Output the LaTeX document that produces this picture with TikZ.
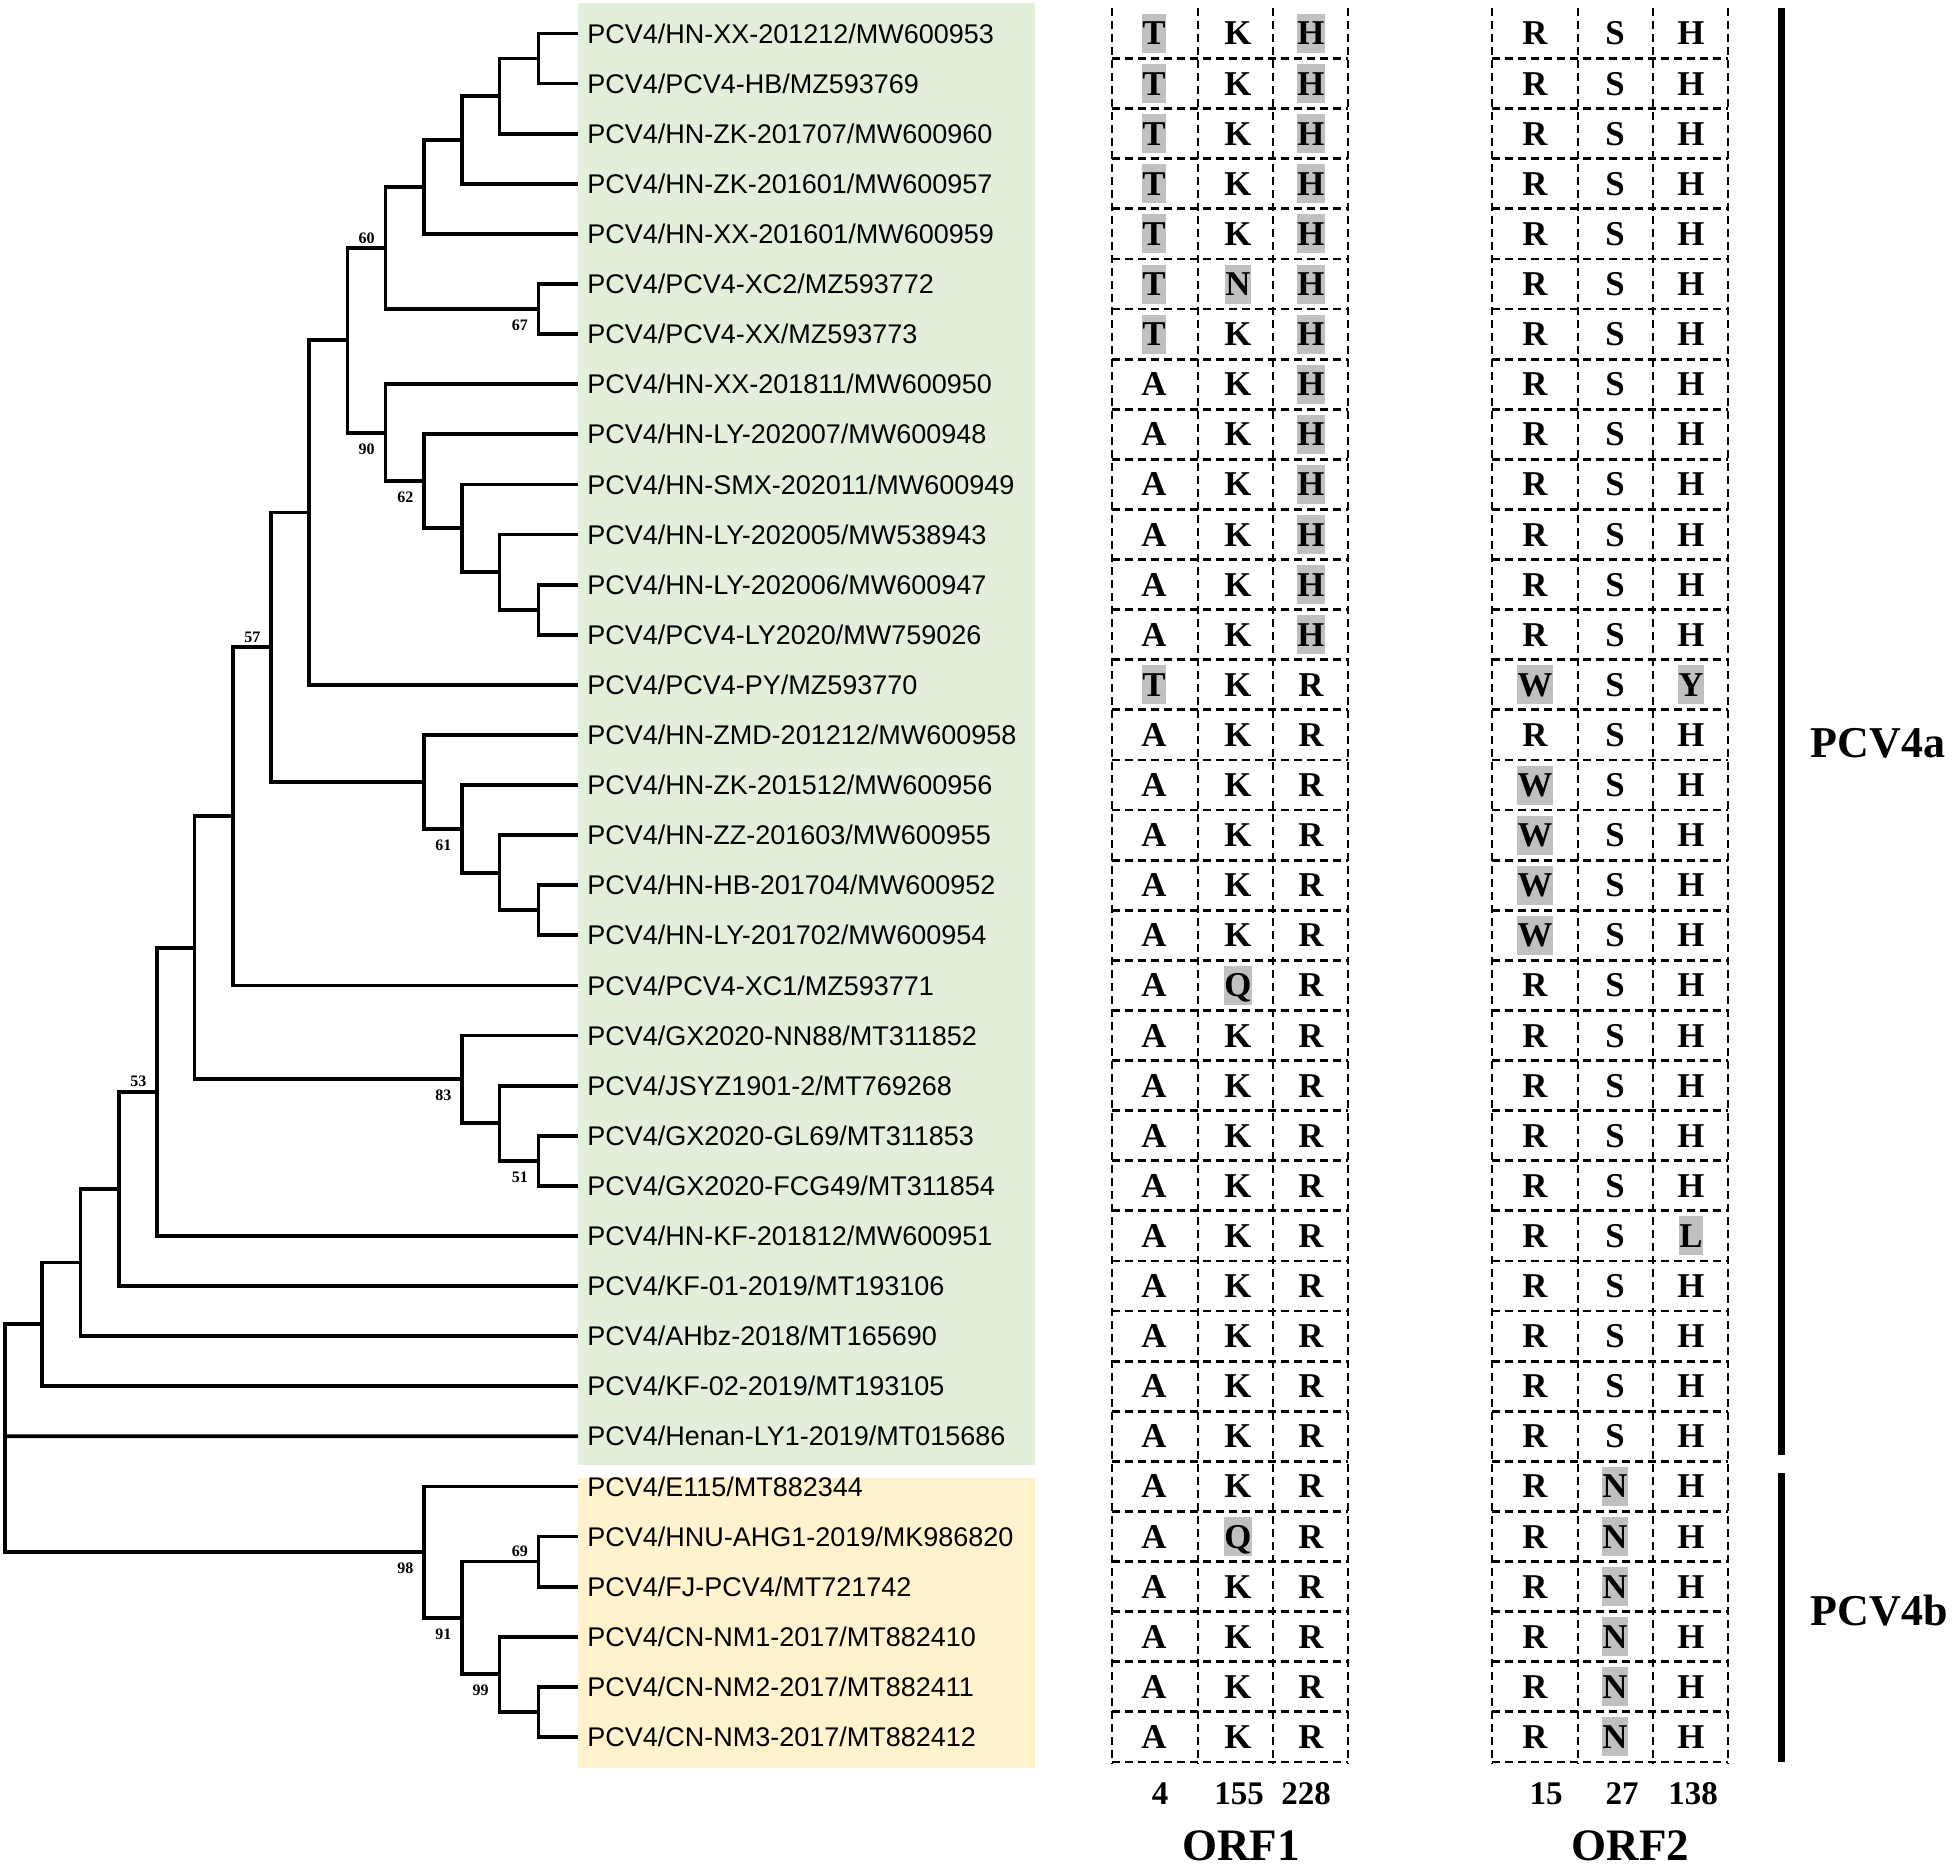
\documentclass[tikz,border=0pt]{standalone}
\usepackage{fontspec}
\setmainfont{Liberation Serif}
\newfontfamily\taxfont{Liberation Sans}
\usetikzlibrary{positioning}

\definecolor{cladeA}{HTML}{E2EFDA}
\definecolor{cladeB}{HTML}{FFF2CC}
\definecolor{hlgray}{HTML}{C0C0C0}

\tikzset{every picture/.style={line width=0.75pt}}
\tikzset{
  branch/.style={line width=1.9pt, line join=miter},
  taxon/.style={anchor=west, inner xsep=4.25pt, inner ysep=0pt, text height=9.6pt, text depth=0pt,
    font=\taxfont\fontsize{13.5}{15}\selectfont},
  boot/.style={inner sep=1pt, font=\bfseries\fontsize{8}{9}\selectfont},
  cellline/.style={line width=1.4pt, dash pattern=on 4pt off 2.5pt},
  aa/.style={inner xsep=0.3pt, inner ysep=4pt, text height=11.5pt, text depth=0pt,
    font=\bfseries\fontsize{17.4}{20}\selectfont},
  gry/.style={fill=hlgray},
  wht/.style={},
  posnum/.style={font=\bfseries\fontsize{16.5}{19}\selectfont},
  orf/.style={inner sep=0pt, text depth=0pt, font=\bfseries\fontsize{22.5}{26}\selectfont},
  grp/.style={anchor=base west, inner sep=0pt, font=\bfseries\fontsize{22}{26}\selectfont},
  grpbar/.style={line width=3.25pt}
}

\begin{document}
\begin{tikzpicture}[x=0.5pt, y=-0.5pt]
    \useasboundingbox (0,0) rectangle (1960,1868);

    \fill[cladeA] (578,2.7) rectangle (1035,1465);
    \fill[cladeB] (578,1477.7) rectangle (1035,1768);

    \foreach \name [count=\i] in {PCV4/HN-XX-201212/MW600953, PCV4/PCV4-HB/MZ593769,
        PCV4/HN-ZK-201707/MW600960, PCV4/HN-ZK-201601/MW600957, PCV4/HN-XX-201601/MW600959,
        PCV4/PCV4-XC2/MZ593772, PCV4/PCV4-XX/MZ593773, PCV4/HN-XX-201811/MW600950,
        PCV4/HN-LY-202007/MW600948, PCV4/HN-SMX-202011/MW600949, PCV4/HN-LY-202005/MW538943,
        PCV4/HN-LY-202006/MW600947, PCV4/PCV4-LY2020/MW759026, PCV4/PCV4-PY/MZ593770,
        PCV4/HN-ZMD-201212/MW600958, PCV4/HN-ZK-201512/MW600956, PCV4/HN-ZZ-201603/MW600955,
        PCV4/HN-HB-201704/MW600952, PCV4/HN-LY-201702/MW600954, PCV4/PCV4-XC1/MZ593771,
        PCV4/GX2020-NN88/MT311852, PCV4/JSYZ1901-2/MT769268, PCV4/GX2020-GL69/MT311853,
        PCV4/GX2020-FCG49/MT311854, PCV4/HN-KF-201812/MW600951, PCV4/KF-01-2019/MT193106,
        PCV4/AHbz-2018/MT165690, PCV4/KF-02-2019/MT193105, PCV4/Henan-LY1-2019/MT015686,
        PCV4/E115/MT882344, PCV4/HNU-AHG1-2019/MK986820, PCV4/FJ-PCV4/MT721742,
        PCV4/CN-NM1-2017/MT882410, PCV4/CN-NM2-2017/MT882411, PCV4/CN-NM3-2017/MT882412}
      \node[taxon] (t\i) at (578,{33.5+50.1*(\i-1)}) {\name};

    \coordinate (a12) at (538.5,58.55);
    \coordinate (a123) at (499.4,96.13);
    \coordinate (a1234) at (462,139.96);
    \coordinate (a12345) at (424,186.93);
    \coordinate (n67) at (538.5,309.05);
    \coordinate (n60) at (385.4,247.99);
    \coordinate (a1213) at (538.5,609.65);
    \coordinate (a1113) at (499.4,572.08);
    \coordinate (a1013) at (462,528.24);
    \coordinate (n62) at (424,481.27);
    \coordinate (n90) at (385.4,432.74);
    \coordinate (a113) at (347.5,340.37);
    \coordinate (a114) at (309,512.58);
    \coordinate (a1819) at (538.5,910.25);
    \coordinate (a1719) at (499.4,872.68);
    \coordinate (n61) at (462,828.84);
    \coordinate (a1519) at (424,781.87);
    \coordinate (n57) at (271,647.23);
    \coordinate (a120) at (232.7,816.31);
    \coordinate (n51) at (538.5,1160.75);
    \coordinate (a2224) at (499.4,1123.18);
    \coordinate (n83) at (462,1079.34);
    \coordinate (a124) at (194.4,947.83);
    \coordinate (n53) at (157,1091.86);
    \coordinate (a126) at (118.6,1188.93);
    \coordinate (a127) at (80.4,1262.52);
    \coordinate (a128) at (42,1324.36);
    \coordinate (n69) at (538.5,1561.55);
    \coordinate (a3435) at (538.5,1711.85);
    \coordinate (n99) at (499.4,1674.28);
    \coordinate (n91) at (462,1617.92);
    \coordinate (n98) at (424,1552.16);
    \coordinate (root) at (4.6,1436.3);

    \draw[branch] (t1.west) -| (a12) |- (t2.west);
    \draw[branch] (a12) -| (a123) |- (t3.west);
    \draw[branch] (a123) -| (a1234) |- (t4.west);
    \draw[branch] (a1234) -| (a12345) |- (t5.west);
    \draw[branch] (t6.west) -| (n67) |- (t7.west);
    \draw[branch] (a12345) -| (n60) |- (n67);
    \draw[branch] (t12.west) -| (a1213) |- (t13.west);
    \draw[branch] (t11.west) -| (a1113) |- (a1213);
    \draw[branch] (t10.west) -| (a1013) |- (a1113);
    \draw[branch] (t9.west) -| (n62) |- (a1013);
    \draw[branch] (t8.west) -| (n90) |- (n62);
    \draw[branch] (n60) -| (a113) |- (n90);
    \draw[branch] (a113) -| (a114) |- (t14.west);
    \draw[branch] (t18.west) -| (a1819) |- (t19.west);
    \draw[branch] (t17.west) -| (a1719) |- (a1819);
    \draw[branch] (t16.west) -| (n61) |- (a1719);
    \draw[branch] (t15.west) -| (a1519) |- (n61);
    \draw[branch] (a114) -| (n57) |- (a1519);
    \draw[branch] (n57) -| (a120) |- (t20.west);
    \draw[branch] (t23.west) -| (n51) |- (t24.west);
    \draw[branch] (t22.west) -| (a2224) |- (n51);
    \draw[branch] (t21.west) -| (n83) |- (a2224);
    \draw[branch] (a120) -| (a124) |- (n83);
    \draw[branch] (a124) -| (n53) |- (t25.west);
    \draw[branch] (n53) -| (a126) |- (t26.west);
    \draw[branch] (a126) -| (a127) |- (t27.west);
    \draw[branch] (a127) -| (a128) |- (t28.west);
    \draw[branch] (t31.west) -| (n69) |- (t32.west);
    \draw[branch] (t34.west) -| (a3435) |- (t35.west);
    \draw[branch] (t33.west) -| (n99) |- (a3435);
    \draw[branch] (n69) -| (n91) |- (n99);
    \draw[branch] (t30.west) -| (n98) |- (n91);
    \draw[branch] (a128) -| (root) |- (n98);
    \draw[branch] (root) -- (t29.west);

    \foreach \v in {60,57,53,69}
      \node[boot, above left=1pt and 4pt of n\v] (b\v) {\v};
    \foreach \v in {67,90,62,61,83,51,98,91,99}
      \node[boot, below left=4pt and 4pt of n\v] (b\v) {\v};

    \foreach \x in {1112,1198,1273,1348,1492,1578,1653,1728}
      \draw[cellline] (\x,8) -- (\x,1764);
    \foreach \i in {1,...,35} {
      \draw[cellline] (1112,{8.45+50.1*\i}) -- (1348,{8.45+50.1*\i});
      \draw[cellline] (1492,{8.45+50.1*\i}) -- (1728,{8.45+50.1*\i});
    }

    \foreach \row [count=\r] in {
        {T/gry,K/wht,H/gry,R/wht,S/wht,H/wht}, {T/gry,K/wht,H/gry,R/wht,S/wht,H/wht},
        {T/gry,K/wht,H/gry,R/wht,S/wht,H/wht}, {T/gry,K/wht,H/gry,R/wht,S/wht,H/wht},
        {T/gry,K/wht,H/gry,R/wht,S/wht,H/wht}, {T/gry,N/gry,H/gry,R/wht,S/wht,H/wht},
        {T/gry,K/wht,H/gry,R/wht,S/wht,H/wht}, {A/wht,K/wht,H/gry,R/wht,S/wht,H/wht},
        {A/wht,K/wht,H/gry,R/wht,S/wht,H/wht}, {A/wht,K/wht,H/gry,R/wht,S/wht,H/wht},
        {A/wht,K/wht,H/gry,R/wht,S/wht,H/wht}, {A/wht,K/wht,H/gry,R/wht,S/wht,H/wht},
        {A/wht,K/wht,H/gry,R/wht,S/wht,H/wht}, {T/gry,K/wht,R/wht,W/gry,S/wht,Y/gry},
        {A/wht,K/wht,R/wht,R/wht,S/wht,H/wht}, {A/wht,K/wht,R/wht,W/gry,S/wht,H/wht},
        {A/wht,K/wht,R/wht,W/gry,S/wht,H/wht}, {A/wht,K/wht,R/wht,W/gry,S/wht,H/wht},
        {A/wht,K/wht,R/wht,W/gry,S/wht,H/wht}, {A/wht,Q/gry,R/wht,R/wht,S/wht,H/wht},
        {A/wht,K/wht,R/wht,R/wht,S/wht,H/wht}, {A/wht,K/wht,R/wht,R/wht,S/wht,H/wht},
        {A/wht,K/wht,R/wht,R/wht,S/wht,H/wht}, {A/wht,K/wht,R/wht,R/wht,S/wht,H/wht},
        {A/wht,K/wht,R/wht,R/wht,S/wht,L/gry}, {A/wht,K/wht,R/wht,R/wht,S/wht,H/wht},
        {A/wht,K/wht,R/wht,R/wht,S/wht,H/wht}, {A/wht,K/wht,R/wht,R/wht,S/wht,H/wht},
        {A/wht,K/wht,R/wht,R/wht,S/wht,H/wht}, {A/wht,K/wht,R/wht,R/wht,N/gry,H/wht},
        {A/wht,Q/gry,R/wht,R/wht,N/gry,H/wht}, {A/wht,K/wht,R/wht,R/wht,N/gry,H/wht},
        {A/wht,K/wht,R/wht,R/wht,N/gry,H/wht}, {A/wht,K/wht,R/wht,R/wht,N/gry,H/wht},
        {A/wht,K/wht,R/wht,R/wht,N/gry,H/wht}}
      \foreach \l/\s [count=\c] in \row {
        \pgfmathsetmacro\cx{{1154,1238,1311,1535,1615,1691}[\c-1]}
        \node[aa,\s] (aa\r-\c) at (\cx,{33.5+50.1*(\r-1)}) {\l};
      }

    \foreach \t/\x in {4/1160,155/1239,228/1306,15/1546,27/1622,138/1693}
      \node[posnum] (p\t) at (\x,1794) {\t};
    \node[orf] (orf1) at (1241,1846) {ORF1};
    \node[orf] (orf2) at (1630.5,1846) {ORF2};

    \draw[grpbar] (1781.5,8) -- (1781.5,1455);
    \draw[grpbar] (1781.5,1473) -- (1781.5,1762);
    \node[grp] (pcva) at (1810,757) {PCV4a};
    \node[grp] (pcvb) at (1810,1625) {PCV4b};
\end{tikzpicture}
\end{document}
